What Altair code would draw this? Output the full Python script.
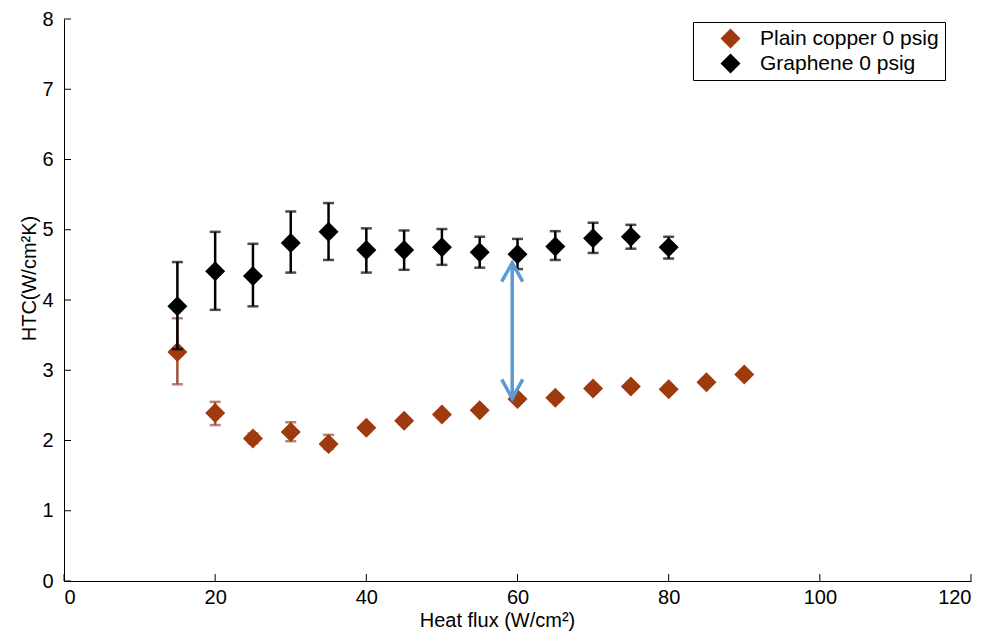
import altair as alt
import pandas as pd

# ---- data ----
heat_flux_copper = [15, 20, 25, 30, 35, 40, 45, 50, 55, 60, 65, 70, 75, 80, 85, 90]
htc_copper = [3.26, 2.39, 2.03, 2.12, 1.95, 2.18, 2.28, 2.37, 2.43, 2.59, 2.61, 2.74, 2.77, 2.73, 2.83, 2.94]
copper_hi = [3.74, 2.55, 2.10, 2.26, 2.08, 2.23, 2.33, 2.42, 2.48, 2.64, 2.66, 2.79, 2.82, 2.78, 2.88, 2.99]
copper_lo = [2.80, 2.22, 1.96, 1.99, 1.88, 2.13, 2.23, 2.32, 2.38, 2.54, 2.56, 2.69, 2.72, 2.68, 2.78, 2.89]

heat_flux_graphene = [15, 20, 25, 30, 35, 40, 45, 50, 55, 60, 65, 70, 75, 80]
htc_graphene = [3.91, 4.41, 4.34, 4.81, 4.97, 4.71, 4.71, 4.75, 4.68, 4.65, 4.76, 4.88, 4.90, 4.75]
graphene_hi = [4.54, 4.97, 4.80, 5.26, 5.38, 5.02, 4.99, 5.01, 4.90, 4.87, 4.98, 5.10, 5.07, 4.90]
graphene_lo = [3.30, 3.86, 3.91, 4.39, 4.57, 4.39, 4.43, 4.50, 4.46, 4.44, 4.57, 4.67, 4.73, 4.59]

series_names = ["Plain copper 0 psig", "Graphene 0 psig"]
series_colors = ["#9E3A0E", "#000000"]
errbar_colors = ["#A0503C", "#000000"]

x_ticks = [0, 20, 40, 60, 80, 100, 120]
y_ticks = [0, 1, 2, 3, 4, 5, 6, 7, 8]

arrow_x = [59.3]
arrow_y_low = [2.60]
arrow_y_high = [4.53]

# ---- layout ----
W, H = 907, 562
FONT = "Liberation Sans"

x_scale = alt.Scale(domain=[0, 120], nice=False, zero=False)
y_scale = alt.Scale(domain=[0, 8], nice=False, zero=False)
color_scale = alt.Scale(domain=series_names, range=series_colors)

x_axis = alt.Axis(values=x_ticks, title="Heat flux (W/cm²)", grid=False, ticks=False,
                  labelPadding=6, titleX=433, titleY=45, titleBaseline="alphabetic",
                  titleAlign="center")
y_axis = alt.Axis(values=y_ticks, title="HTC(W/cm²K)", grid=False, ticks=False,
                  labelPadding=11, titleX=-29, titleY=259, titleBaseline="alphabetic",
                  titleAlign="center", titleAngle=270)


def X(field):
    return alt.X(f"{field}:Q", scale=x_scale, axis=x_axis)


def Y(field):
    return alt.Y(f"{field}:Q", scale=y_scale, axis=y_axis)


legend = alt.Legend(title=None, orient="none", legendX=629, legendY=3,
                    symbolType="diamond", symbolSize=400, symbolStrokeWidth=0,
                    labelFontSize=21, labelFont=FONT, labelColor="black", labelLimit=400,
                    padding=6, rowPadding=3, symbolOffset=21, labelOffset=19,
                    strokeColor="black", fillColor="white", cornerRadius=0)


def series_df(name, xs, ys, lo, hi):
    return pd.DataFrame({"x": xs, "y": ys, "lo": lo, "hi": hi, "series": name})


copper = series_df(series_names[0], heat_flux_copper, htc_copper, copper_lo, copper_hi)
graphene = series_df(series_names[1], heat_flux_graphene, htc_graphene, graphene_lo, graphene_hi)


def caps_df(df):
    return pd.concat([
        pd.DataFrame({"x": df["x"], "c": df["lo"]}),
        pd.DataFrame({"x": df["x"], "c": df["hi"]}),
    ])


def series_layers(df, err_color):
    rules = alt.Chart(df).mark_rule(color=err_color, strokeWidth=2.5).encode(
        x=X("x"), y=Y("lo"), y2="hi:Q")
    caps = alt.Chart(caps_df(df)).mark_tick(orient="horizontal", color=err_color,
                                            size=11, thickness=2.5).encode(
        x=X("x"), y=Y("c"))
    pts = alt.Chart(df).mark_point(shape="diamond", filled=True, size=400, opacity=1).encode(
        x=X("x"), y=Y("y"),
        color=alt.Color("series:N", scale=color_scale, legend=legend))
    return [rules, caps, pts]


xt = alt.Chart(pd.DataFrame({"t": x_ticks})).mark_rule(color="black", strokeWidth=1).encode(
    x=X("t"), y=alt.value(H), y2=alt.value(H - 7))
yt = alt.Chart(pd.DataFrame({"t": y_ticks})).mark_rule(color="black", strokeWidth=1).encode(
    y=Y("t"), x=alt.value(0), x2=alt.value(7))

arrow_df = pd.DataFrame({"x": arrow_x, "lo": arrow_y_low, "hi": arrow_y_high})
arrow_color = "#5B9BD5"
arrow_line = alt.Chart(arrow_df).mark_rule(color=arrow_color, strokeWidth=3.5).encode(
    x=X("x"), y=Y("lo"), y2="hi:Q")
head_up = alt.Chart(arrow_df).mark_point(shape="M-1,1.8L0,0L1,1.8", filled=False,
                                         stroke=arrow_color, strokeWidth=3.5, size=441,
                                         opacity=1).encode(x=X("x"), y=Y("hi"))
head_down = alt.Chart(arrow_df).mark_point(shape="M-1,-1.8L0,0L1,-1.8", filled=False,
                                           stroke=arrow_color, strokeWidth=3.5, size=441,
                                           opacity=1).encode(x=X("x"), y=Y("lo"))

layers = [xt, yt] + series_layers(copper, errbar_colors[0]) + \
    series_layers(graphene, errbar_colors[1]) + [arrow_line, head_up, head_down]

chart = alt.layer(*layers).properties(
    width=W, height=H,
    autosize=alt.AutoSizeParams(type="none"),
    padding={"left": 56, "top": 11, "right": 16, "bottom": 50},
).configure_view(strokeWidth=0).configure_axis(
    domainColor="black", domainWidth=1,
    labelFont=FONT, labelFontSize=20, labelColor="black",
    titleFont=FONT, titleFontSize=20, titleFontWeight="normal", titleColor="black",
)

chart.save("out.html", embed_options={"renderer": "svg", "actions": False})
